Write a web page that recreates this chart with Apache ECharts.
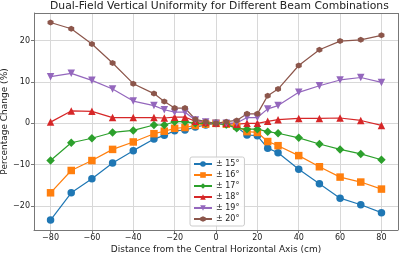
<!DOCTYPE html>
<html>
<head>
<meta charset="UTF-8">
<title>Dual-Field Vertical Uniformity</title>
<style>
    html, body { margin: 0; padding: 0; background: #fff; }
    #chart { width: 400px; height: 254px; }
</style>
<script src="https://cdn.jsdelivr.net/npm/echarts@6/dist/echarts.min.js"></script>
</head>
<body>
<div id="chart"></div>
<script>
// distances (cm)
var distances = [-80, -70, -60, -50, -40, -30, -25, -20, -15, -10, -5, 0, 5, 10, 15, 20, 25, 30, 40, 50, 60, 70, 80];

// percentage change per beam combination
var deg15 = [-23.4, -16.8, -13.4, -9.6, -6.6, -3.8, -2.9, -1.8, -1.6, -0.9, -0.4, 0, -0.3, -0.9, -2.8, -3.0, -6.0, -7.1, -11.1, -14.6, -18.1, -19.7, -21.6];
var deg16 = [-16.8, -11.4, -9.0, -6.3, -4.5, -2.5, -1.9, -1.2, -1.0, -0.5, -0.2, 0, -0.2, -0.7, -2.0, -2.2, -4.4, -5.4, -7.8, -10.5, -13.0, -14.2, -15.9];
var deg17 = [-9.0, -4.7, -3.6, -2.2, -1.7, -0.4, -0.4, 0.4, 0.4, 0.0, 0.0, 0, -0.3, -1.2, -1.4, -1.4, -2.0, -2.4, -3.5, -5.0, -6.3, -7.4, -8.8];
var deg18 = [0.3, 3.0, 2.9, 1.4, 1.4, 1.4, 1.3, 1.5, 1.5, 0.5, 0.2, 0, 0.0, -0.2, 0.0, 0.0, 0.5, 0.9, 1.2, 1.2, 1.3, 0.7, -0.5];
var deg19 = [11.3, 12.1, 10.4, 8.3, 5.4, 4.3, 3.3, 2.7, 2.7, 0.8, 0.3, 0, 0.0, 0.1, 1.4, 1.4, 3.5, 4.3, 7.5, 9.1, 10.5, 11.1, 9.9];
var deg20 = [24.4, 22.9, 19.2, 14.6, 9.6, 7.2, 5.3, 3.7, 3.7, 1.0, 0.4, 0, 0.4, 0.7, 2.3, 2.3, 6.7, 8.3, 14.0, 17.8, 19.9, 20.2, 21.3];

var seriesNames = ['± 15°', '± 16°', '± 17°', '± 18°', '± 19°', '± 20°'];
var xTicks = [-80, -60, -40, -20, 0, 20, 40, 60, 80];
var yTicks = [-20, -10, 0, 10, 20];

var colors = ['#1f77b4', '#ff7f0e', '#2ca02c', '#d62728', '#9467bd', '#8c564b'];
var hexagon = 'path://M0,-10L8.66,-5L8.66,5L0,10L-8.66,5L-8.66,-5Z';
var markers = [
    { symbol: 'circle', size: 7.5, rotate: 0 },
    { symbol: 'rect', size: 7.5, rotate: 0 },
    { symbol: 'diamond', size: 8.5, rotate: 0 },
    { symbol: 'triangle', size: 7.5, rotate: 0 },
    { symbol: 'triangle', size: 7.5, rotate: 180 },
    { symbol: hexagon, size: 6, rotate: 0 }
];

function pairs(ys) {
    return distances.map(function (x, i) { return [x, ys[i]]; });
}

var allData = [deg15, deg16, deg17, deg18, deg19, deg20];

var series = allData.map(function (ys, i) {
    return {
        name: seriesNames[i],
        type: 'line',
        data: pairs(ys),
        symbol: markers[i].symbol,
        symbolSize: markers[i].size,
        symbolRotate: markers[i].rotate,
        showAllSymbol: true,
        lineStyle: { width: 1.2, color: colors[i] },
        itemStyle: { color: colors[i] },
        emphasis: { disabled: true },
        animation: false
    };
});

var chart = echarts.init(document.getElementById('chart'));
var option = {
    animation: false,
    color: colors,
    title: {
        text: 'Dual-Field Vertical Uniformity for Different Beam Combinations',
        left: 50,
        top: 0,
        padding: [1, 0, 0, 0],
        textStyle: { fontFamily: 'DejaVu Sans', fontSize: 10.8, fontWeight: 'normal', color: '#222' }
    },
    grid: { left: 34, right: 2, top: 13, bottom: 24, containLabel: false, outerBoundsMode: 'none' },
    legend: {
        orient: 'vertical',
        left: 190,
        top: 157,
        data: seriesNames,
        itemWidth: 18,
        itemHeight: 7,
        itemGap: 3,
        padding: [3, 5, 3, 3],
        backgroundColor: 'rgba(255,255,255,0.85)',
        borderColor: '#ccc',
        borderWidth: 1,
        borderRadius: 2,
        textStyle: { fontFamily: 'DejaVu Sans', fontSize: 8, color: '#222', padding: [0, 0, 0, -1] }
    },
    xAxis: {
        type: 'value',
        min: -88,
        max: 88,
        name: 'Distance from the Central Horizontal Axis (cm)',
        nameLocation: 'middle',
        nameGap: 15,
        nameMoveOverlap: false,
        nameTextStyle: { fontFamily: 'DejaVu Sans', fontSize: 9, color: '#222' },
        axisLine: { onZero: false, lineStyle: { color: '#777', width: 1 } },
        axisTick: { show: true, length: 3, customValues: xTicks, lineStyle: { color: '#777' } },
        axisLabel: { customValues: xTicks, fontFamily: 'DejaVu Sans', fontSize: 8, color: '#222', margin: 4,
            formatter: function (v) { return v < 0 ? '\u2212' + Math.abs(v) : String(v); } },
        splitLine: { show: true, lineStyle: { color: '#d8d8d8', width: 1 } }
    },
    yAxis: {
        type: 'value',
        min: -25.8,
        max: 26.7,
        name: 'Percentage Change (%)',
        nameLocation: 'middle',
        nameGap: 25,
        nameMoveOverlap: false,
        nameTextStyle: { fontFamily: 'DejaVu Sans', fontSize: 9, color: '#222' },
        axisLine: { show: true, onZero: false, lineStyle: { color: '#777', width: 1 } },
        axisTick: { show: true, length: 3, customValues: yTicks, lineStyle: { color: '#777' } },
        axisLabel: { customValues: yTicks, fontFamily: 'DejaVu Sans', fontSize: 8, color: '#222', margin: 4,
            formatter: function (v) { return v < 0 ? '\u2212' + Math.abs(v) : String(v); } },
        splitLine: { show: true, lineStyle: { color: '#d8d8d8', width: 1 } }
    },
    series: series.concat([{
        // frame on the top and right side
        type: 'line',
        data: [],
        markLine: {
            silent: true,
            symbol: 'none',
            label: { show: false },
            lineStyle: { color: '#777', width: 1, type: 'solid' },
            data: [{ yAxis: 26.7 }, { xAxis: 88 }]
        }
    }])
};
chart.setOption(option);
</script>
</body>
</html>
